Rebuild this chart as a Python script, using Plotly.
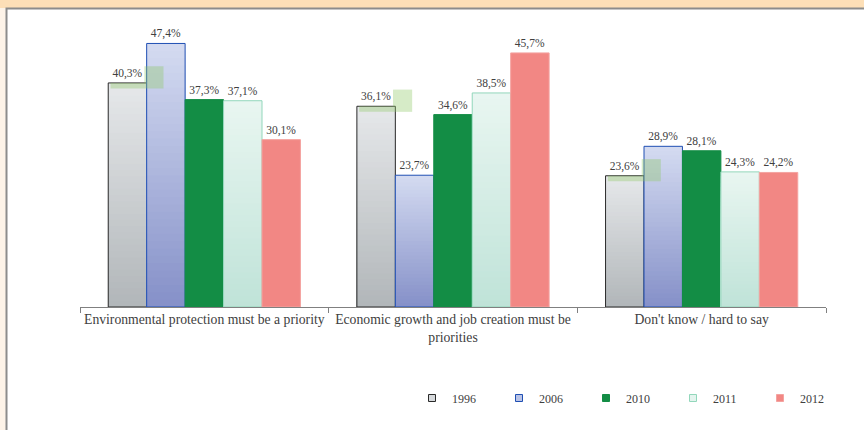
import plotly.graph_objects as go

# Survey answers, share of respondents (%)
categories = [
    "Environmental protection must be a priority",
    "Economic growth and job creation must be<br>priorities",
    "Don't know / hard to say",
]
years = ["1996", "2006", "2010", "2011", "2012"]
values_1996 = [40.3, 36.1, 23.6]
values_2006 = [47.4, 23.7, 28.9]
values_2010 = [37.3, 34.6, 28.1]
values_2011 = [37.1, 38.5, 24.3]
values_2012 = [30.1, 45.7, 24.2]
series = [values_1996, values_2006, values_2010, values_2011, values_2012]

# Fill styles: (top colour, bottom colour, outline colour, legend swatch fill)
styles = {
    "1996": ("#e6e8ea", "#b1b6b9", "#2a2a2a", "#d6d9dc"),
    "2006": ("#d4dbf1", "#8590c8", "#1f4fb3", "#b9c3e6"),
    "2010": ("#138d45", "#138d45", "#138d45", "#138d45"),
    "2011": ("#e9f6f1", "#bfe3d8", "#92d7bb", "#e4f4ee"),
    "2012": ("#f28784", "#f28784", "#f4a3a0", "#f28784"),
}

W, H = 864, 430
ML, MR, MT, MB = 80, 38, 29, 123
PW, PH = W - ML - MR, H - MT - MB
BARGAP = 0.227
SERIF = "Liberation Serif, Times New Roman, serif"
TEXT = "#404040"


def hex_rgb(h):
    h = h.lstrip("#")
    return tuple(int(h[i:i + 2], 16) for i in (0, 2, 4))


def mix(c_top, c_bot, t):
    a, b = hex_rgb(c_top), hex_rgb(c_bot)
    return "rgb(%d,%d,%d)" % tuple(round(b[i] + (a[i] - b[i]) * t) for i in range(3))


fig = go.Figure()

for year, vals in zip(years, series):
    top, bot, edge, swatch = styles[year]
    steps = 1 if top == bot else 36
    # vertical gradient: nested bars, each shorter one painted over the last
    for k in range(steps):
        frac = (steps - k) / steps
        t = (steps - k - 0.5) / steps
        fig.add_trace(go.Bar(
            x=categories, y=[v * frac for v in vals],
            offsetgroup=year, showlegend=False, hoverinfo="skip",
            marker=dict(color=mix(top, bot, t), line=dict(width=0)),
        ))
    # outline and value label
    fig.add_trace(go.Bar(
        x=categories, y=vals, offsetgroup=year, name=year, showlegend=False,
        marker=dict(color="rgba(0,0,0,0)", line=dict(color=edge, width=1)),
        texttemplate="%{y:.1f}%", textposition="outside", cliponaxis=False,
        textfont=dict(family=SERIF, size=11.5, color=TEXT),
    ))

# legend swatches
for year in years:
    top, bot, edge, swatch = styles[year]
    fig.add_trace(go.Scatter(
        x=[None], y=[None], mode="markers", name=year,
        marker=dict(symbol="square", size=7, color=swatch, line=dict(color=edge, width=1)),
    ))


def px_x(p):
    return (p - ML) / PW


def px_y(p):
    return (H - MB - p) / PH


shapes = [
    # peach frame and white panel
    dict(type="rect", xref="paper", yref="paper", layer="below",
         x0=px_x(-5), x1=px_x(W + 5), y0=px_y(8), y1=px_y(-5),
         fillcolor="#fddfb7", line=dict(width=0)),
    dict(type="rect", xref="paper", yref="paper", layer="below",
         x0=px_x(6.5), x1=px_x(W + 10), y0=px_y(H + 10), y1=px_y(8.5),
         fillcolor="white", line=dict(color="#8c8c8c", width=2)),
]

# soft green highlight beside the 1996 labels
bar_w = (1 - BARGAP) / len(years)
for i, v in enumerate(values_1996):
    cx = i - 2 * bar_w
    shapes.append(dict(type="rect", xref="x", yref="y", layer="above",
                       x0=cx + 0.068, x1=cx + 0.145, y0=v - 1.0, y1=v + 3.0,
                       fillcolor="rgba(140,200,100,0.36)", line=dict(width=0)))
    shapes.append(dict(type="rect", xref="x", yref="y", layer="above",
                       x0=cx - 0.068, x1=cx + 0.068, y0=v - 1.0, y1=v,
                       fillcolor="rgba(140,200,100,0.36)", line=dict(width=0)))

fig.update_layout(
    width=W, height=H,
    margin=dict(l=ML, r=MR, t=MT, b=MB, autoexpand=False),
    paper_bgcolor="#fdf3e8", plot_bgcolor="rgba(0,0,0,0)",
    barmode="group", bargap=BARGAP, bargroupgap=0,
    separators=", ",
    shapes=shapes,
    font=dict(family=SERIF, color=TEXT),
    xaxis=dict(
        showline=True, linecolor="#808080", linewidth=1,
        ticks="outside", tickson="boundaries", ticklen=5, tickcolor="#808080",
        tickangle=0,
        tickfont=dict(family=SERIF, size=13.7, color=TEXT),
        showgrid=False, fixedrange=True,
    ),
    yaxis=dict(visible=False, range=[0, 50], fixedrange=True),
    legend=dict(
        orientation="h", x=px_x(412), xanchor="left", y=px_y(398), yanchor="middle",
        entrywidth=42, entrywidthmode="pixels",
        bgcolor="rgba(0,0,0,0)", font=dict(family=SERIF, size=12, color=TEXT),
        itemclick=False, itemdoubleclick=False,
    ),
    showlegend=True,
)

fig.write_html("out.html")
